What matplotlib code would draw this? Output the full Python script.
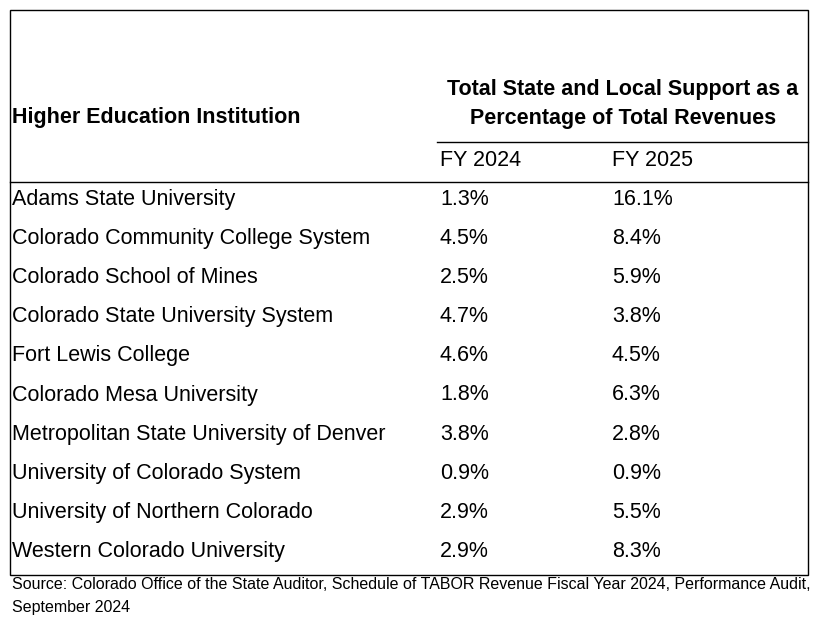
import matplotlib.pyplot as plt
from matplotlib.lines import Line2D

plt.rcParams['font.family'] = ['Liberation Sans', 'DejaVu Sans']

institutions = [
    'Adams State University',
    'Colorado Community College System',
    'Colorado School of Mines',
    'Colorado State University System',
    'Fort Lewis College',
    'Colorado Mesa University',
    'Metropolitan State University of Denver',
    'University of Colorado System',
    'University of Northern Colorado',
    'Western Colorado University',
]
fy2024 = [1.3, 4.5, 2.5, 4.7, 4.6, 1.8, 3.8, 0.9, 2.9, 2.9]
fy2025 = [16.1, 8.4, 5.9, 3.8, 4.5, 6.3, 2.8, 0.9, 5.5, 8.3]
col_labels = ['FY 2024', 'FY 2025']
group_title = 'Total State and Local Support as a\nPercentage of Total Revenues'
source = ('Source: Colorado Office of the State Auditor, Schedule of TABOR Revenue Fiscal Year 2024, '
          'Performance Audit,\nSeptember 2024')

W, H = 826, 638
fig = plt.figure(figsize=(W / 100, H / 100), dpi=100)
ax = fig.add_axes([0, 0, 1, 1])
ax.set_xlim(0, W)
ax.set_ylim(H, 0)
ax.axis('off')

# table frame and rules
left, right, top, bottom = 9.5, 807.5, 9.5, 574.5
ax.add_patch(plt.Rectangle((left, top), right - left, bottom - top,
                           fill=False, ec='black', lw=1.0))
ax.add_line(Line2D([437, right], [142, 142], color='black', lw=1.0))
ax.add_line(Line2D([left, right], [181.5, 181.5], color='black', lw=1.0))

fs = 15.5
x_name, x_c1, x_c2 = 12, 440, 612

ax.text(x_name, 118, 'Higher Education Institution', fontsize=fs, fontweight='bold',
        va='center', ha='left')
ax.text(623, 104, group_title, fontsize=fs, fontweight='bold', va='center',
        ha='center', linespacing=1.5)
ax.text(x_c1, 166, col_labels[0], fontsize=fs, va='baseline')
ax.text(x_c2, 166, col_labels[1], fontsize=fs, va='baseline')

# rows aligned on a common baseline
y0, dy = 205, 39.1
for i, (name, a, b) in enumerate(zip(institutions, fy2024, fy2025)):
    y = y0 + i * dy
    ax.text(x_name, y, name, fontsize=fs, va='baseline')
    ax.text(x_c1, y, f'{a:.1f}%', fontsize=fs, va='baseline')
    ax.text(x_c2, y, f'{b:.1f}%', fontsize=fs, va='baseline')

ax.text(12, 596, source, fontsize=11.5, va='center', linespacing=1.6)

fig.savefig('out.png', dpi=100, facecolor='white')
